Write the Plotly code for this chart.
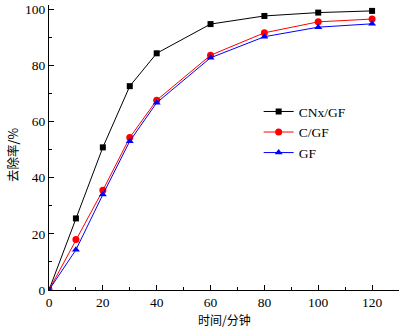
import plotly.graph_objects as go

time_min = [0, 10, 20, 30, 40, 60, 80, 100, 120]
cnx_gf = [0, 25.5, 50.8, 72.6, 84.3, 94.7, 97.6, 98.8, 99.4]
c_gf = [0, 18.0, 35.5, 54.3, 67.6, 83.6, 91.6, 95.5, 96.5]
gf = [0, 14.3, 34.0, 53.0, 66.7, 82.7, 90.2, 93.6, 94.8]

x_ticks = [0, 20, 40, 60, 80, 100, 120]
y_ticks = [0, 20, 40, 60, 80, 100]

fig = go.Figure()
fig.add_trace(go.Scatter(x=time_min, y=cnx_gf, name="CNx/GF", mode="lines+markers",
                         line=dict(color="black", width=1),
                         marker=dict(symbol="square", size=6, color="black")))
fig.add_trace(go.Scatter(x=time_min, y=c_gf, name="C/GF", mode="lines+markers",
                         line=dict(color="red", width=1),
                         marker=dict(symbol="circle", size=7, color="red")))
fig.add_trace(go.Scatter(x=time_min, y=gf, name="GF", mode="lines+markers",
                         line=dict(color="blue", width=1),
                         marker=dict(symbol="triangle-up", size=7, color="blue")))

font_serif = "Liberation Serif, Times New Roman, serif"
fig.update_layout(
    width=402, height=327,
    margin=dict(l=49, r=3, t=5, b=37),
    paper_bgcolor="white", plot_bgcolor="white",
    font=dict(family=font_serif, size=13.5, color="black"),
    showlegend=True,
    legend=dict(x=0.599, y=0.68, xanchor="left", yanchor="top",
                bgcolor="rgba(0,0,0,0)", font=dict(size=13.5, family=font_serif),
                tracegroupgap=0, itemwidth=30),
    annotations=[
        dict(text="时间/分钟", xref="paper", yref="paper", x=0.5, y=0,
             yshift=-29, xanchor="center", yanchor="middle", showarrow=False,
             font=dict(family="Noto Sans CJK SC", size=12)),
        dict(text="去除率/%", xref="paper", yref="paper", x=0, y=0.474,
             xshift=-36, xanchor="center", yanchor="middle", showarrow=False,
             textangle=-90, font=dict(family="Noto Sans CJK SC", size=12.5)),
    ],
)
fig.update_xaxes(range=[0, 130], tickvals=x_ticks, showline=True, linecolor="black",
                 linewidth=1, ticks="inside", ticklen=5, tickcolor="black",
                 minor=dict(dtick=10, ticks="inside", ticklen=3, tickcolor="black"),
                 showgrid=False, zeroline=False, automargin=False)
fig.update_yaxes(range=[0, 101.5], tickvals=y_ticks, showline=True, linecolor="black",
                 linewidth=1, ticks="inside", ticklen=5, tickcolor="black",
                 minor=dict(dtick=10, ticks="inside", ticklen=3, tickcolor="black"),
                 showgrid=False, zeroline=False, automargin=False)

fig.write_html("out.html", config={"displayModeBar": False},
               post_script="document.body.style.margin='0px';")
